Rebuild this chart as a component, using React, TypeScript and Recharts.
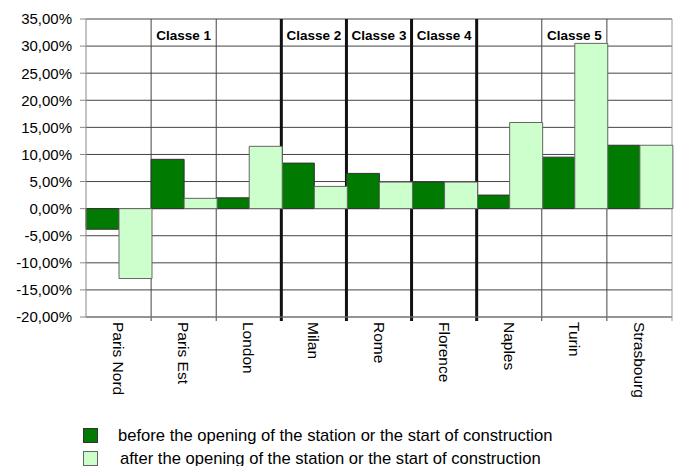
import React from "react";
import {
  BarChart,
  Bar,
  XAxis,
  YAxis,
  CartesianGrid,
  ReferenceLine,
  ReferenceArea,
  Legend,
} from "recharts";

const cities = [
  "Paris Nord",
  "Paris Est",
  "London",
  "Milan",
  "Rome",
  "Florence",
  "Naples",
  "Turin",
  "Strasbourg",
];
const beforeValues = [-3.8, 9.1, 2.0, 8.4, 6.5, 4.9, 2.5, 9.5, 11.7];
const afterValues = [-12.9, 1.9, 11.5, 4.1, 4.9, 4.9, 15.9, 30.5, 11.7];
const yTicks = [-20, -15, -10, -5, 0, 5, 10, 15, 20, 25, 30, 35];
const classNames = ["Classe 1", "Classe 2", "Classe 3", "Classe 4", "Classe 5"];
const classCities = ["Paris Est", "Milan", "Rome", "Florence", "Turin"];
const thinBoundaryCities = ["Paris Est", "London", "Turin", "Strasbourg"];
const thickBoundaryCities = ["Milan", "Rome", "Florence", "Naples"];
const seriesNames = [
  "before the opening of the station or the start of construction",
  "after the opening of the station or the start of construction",
];

const data = cities.map((city, i) => ({
  city,
  before: beforeValues[i],
  after: afterValues[i],
}));

const FONT = "Arial, 'Liberation Sans', sans-serif";
const DARK = "#007a00";
const LIGHT = "#ccffcc";
const TICK_EXT = 4;

const fmt = (v: number) => v.toFixed(2).replace(".", ",") + "%";

const CityTick = (props: any) => {
  const { x, y, payload } = props;
  return (
    <text
      x={x}
      y={y}
      transform={`rotate(90, ${x}, ${y})`}
      textAnchor="start"
      dominantBaseline="central"
      fontSize={15.5}
      fontFamily={FONT}
      fill="#000"
    >
      {payload.value}
    </text>
  );
};

const leftEdge = (stroke: string, w: number) => (p: any) => (
  <line
    x1={p.x}
    x2={p.x}
    y1={p.y}
    y2={p.y + p.height + TICK_EXT}
    stroke={stroke}
    strokeWidth={w}
  />
);

const rightEdge = (stroke: string, w: number) => (p: any) => (
  <line
    x1={p.x + p.width}
    x2={p.x + p.width}
    y1={p.y}
    y2={p.y + p.height + TICK_EXT}
    stroke={stroke}
    strokeWidth={w}
  />
);

const LegendContent = () => {
  const fills = [DARK, LIGHT];
  const strokes = ["#333", "#666"];
  return (
    <div style={{ fontFamily: FONT, fontSize: 16.6, color: "#000" }}>
      {seriesNames.map((name, i) => (
        <div
          key={name}
          style={{ display: "flex", alignItems: "center", height: 23 }}
        >
          <div
            style={{
              width: 13,
              height: 13,
              background: fills[i],
              border: `1px solid ${strokes[i]}`,
              marginRight: 20 + i * 2,
            }}
          />
          <span style={{ whiteSpace: "nowrap" }}>{name}</span>
        </div>
      ))}
    </div>
  );
};

export default function App() {
  return (
    <div style={{ position: "absolute", left: 0, top: 0, background: "#fff" }}>
      <BarChart
        width={677}
        height={466}
        data={data}
        margin={{ top: 19, right: 5, left: 0, bottom: 0 }}
        barCategoryGap={0}
        barGap={0}
      >
        <CartesianGrid vertical={false} stroke="#444" />
        <XAxis
          dataKey="city"
          height={149}
          tick={<CityTick />}
          tickSize={3}
          tickMargin={2}
          tickLine={false}
          axisLine={{ stroke: "#888" }}
          interval={0}
        />
        <YAxis
          width={86}
          domain={[-20, 35]}
          ticks={yTicks}
          tickFormatter={fmt}
          tick={{ fontSize: 15, fontFamily: FONT, fill: "#000" }}
          tickSize={6}
          tickMargin={8}
          tickLine={{ stroke: "#888" }}
          axisLine={{ stroke: "#888" }}
          interval={0}
        />
        <Bar
          dataKey="before"
          name={seriesNames[0]}
          fill={DARK}
          stroke="#333"
          strokeWidth={1}
          isAnimationActive={false}
        />
        <Bar
          dataKey="after"
          name={seriesNames[1]}
          fill={LIGHT}
          stroke="#666"
          strokeWidth={1}
          isAnimationActive={false}
        />
        {thinBoundaryCities.map((c) => (
          <ReferenceArea
            key={`t${c}`}
            x1={c}
            x2={c}
            y1={-20}
            y2={35}
            shape={leftEdge("#444", 1)}
          />
        ))}
        {thickBoundaryCities.map((c) => (
          <ReferenceArea
            key={`k${c}`}
            x1={c}
            x2={c}
            y1={-20}
            y2={35}
            shape={leftEdge("#111", 3)}
          />
        ))}
        <ReferenceArea
          x1={cities[cities.length - 1]}
          x2={cities[cities.length - 1]}
          y1={-20}
          y2={35}
          shape={rightEdge("#999", 1)}
        />
        {classCities.map((c, i) => (
          <ReferenceLine
            key={c}
            x={c}
            stroke="none"
            label={{
              value: classNames[i],
              position: "insideTop",
              offset: 11,
              fill: "#000",
              fontSize: 13.5,
              fontWeight: "bold",
              fontFamily: FONT,
            }}
          />
        ))}
        <Legend
          layout="vertical"
          align="center"
          verticalAlign="middle"
          content={<LegendContent />}
          wrapperStyle={{ left: 83, top: 424, width: "auto" }}
        />
      </BarChart>
    </div>
  );
}
